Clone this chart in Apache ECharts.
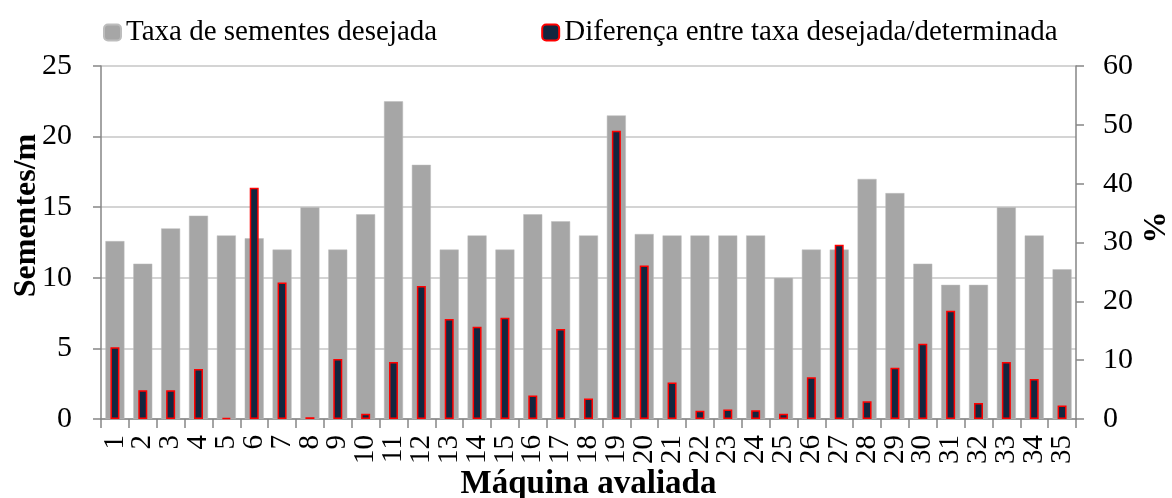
<!DOCTYPE html>
<html>
<head>
<meta charset="utf-8">
<script src="https://cdn.jsdelivr.net/npm/echarts@6/dist/echarts.min.js"></script>
<style>
html,body{margin:0;padding:0;background:#fff;overflow:hidden;width:1172px;height:498px;}
#chart{width:1172px;height:498px;}
</style>
</head>
<body>
<div id="chart"></div>
<script>
const categories = ['1','2','3','4','5','6','7','8','9','10','11','12','13','14','15','16','17','18','19','20','21','22','23','24','25','26','27','28','29','30','31','32','33','34','35'];
const taxaDesejada = [12.6,11,13.5,14.4,13,12.8,12,15,12,14.5,22.5,18,12,13,12,14.5,14,13,21.5,13.1,13,13,13,13,10,12,12,17,16,11,9.5,9.5,15,13,10.6];
const diferenca = [12.2,4.9,4.9,8.5,0.15,39.3,23.2,0.3,10.2,0.9,9.7,22.6,17,15.7,17.2,4,15.3,3.5,49,26.1,6.2,1.4,1.6,1.5,0.9,7.1,29.6,3,8.7,12.8,18.4,2.7,9.7,6.8,2.3];
const leftTicks = {min:0, max:25, interval:5};
const rightTicks = {min:0, max:60, interval:10};
const seriesNames = ['Taxa de sementes desejada','Diferença entre taxa desejada/determinada'];

const FONT = '"Liberation Serif", "Times New Roman", serif';
const chart = echarts.init(document.getElementById('chart'), null, {renderer:'canvas', width:1172, height:498});
const axisLineStyle = {color:'#868686', width:1.5};
chart.setOption({
  animation:false,
  textStyle:{fontFamily:FONT, color:'#000'},
  legend:{
    top:13, left:98,
    itemWidth:17, itemHeight:16, itemGap:104,
    textStyle:{fontFamily:FONT, fontSize:29, color:'#000'},
    data:seriesNames
  },
  grid:{left:101, right:96, top:66, bottom:79, containLabel:false, outerBoundsMode:'none'},
  xAxis:[{
    type:'category', data:categories,
    axisLine:{lineStyle:axisLineStyle},
    axisTick:{show:true, length:9, lineStyle:axisLineStyle, alignWithLabel:false},
    axisLabel:{interval:0, rotate:90, fontSize:29, color:'#000', fontFamily:FONT, margin:16},
    name:'Máquina avaliada', nameLocation:'middle', nameGap:49, nameMoveOverlap:false,
    nameTextStyle:{fontFamily:FONT, fontSize:33, fontWeight:'bold', color:'#000'}
  },{
    type:'category', data:categories, show:false
  }],
  yAxis:[{
    type:'value', min:leftTicks.min, max:leftTicks.max, interval:leftTicks.interval,
    axisLine:{show:true, lineStyle:axisLineStyle},
    axisTick:{show:true, length:8, lineStyle:axisLineStyle},
    axisLabel:{fontSize:30, color:'#000', fontFamily:FONT, margin:29},
    splitLine:{show:true, lineStyle:{color:'#c6c6c6', width:1.5}},
    name:'Sementes/m', nameLocation:'middle', nameGap:58, nameRotate:90, nameMoveOverlap:false,
    nameTextStyle:{fontFamily:FONT, fontSize:32, fontWeight:'bold', color:'#000', padding:[0,0,0,54]}
  },{
    type:'value', position:'right', min:rightTicks.min, max:rightTicks.max, interval:rightTicks.interval,
    axisLine:{show:true, lineStyle:axisLineStyle},
    axisTick:{show:true, length:8, lineStyle:axisLineStyle},
    axisLabel:{fontSize:30, color:'#000', fontFamily:FONT, margin:27},
    splitLine:{show:false},
    name:'%', nameLocation:'middle', nameGap:65, nameRotate:90, nameMoveOverlap:false,
    nameTextStyle:{fontFamily:FONT, fontSize:32, fontWeight:'bold', color:'#000', padding:[0,0,0,30]}
  }],
  series:[{
    name:seriesNames[0], type:'bar', xAxisIndex:0, yAxisIndex:0,
    data:taxaDesejada, barWidth:19,
    itemStyle:{color:'#A6A6A6', borderColor:'#BDBDBD', borderWidth:0.5}
  },{
    name:seriesNames[1], type:'bar', xAxisIndex:1, yAxisIndex:1,
    data:diferenca, barWidth:9, barMinHeight:1,
    itemStyle:{color:'#12263F', borderColor:'#FF0000', borderWidth:1.5}
  }]
});
</script>
</body>
</html>
